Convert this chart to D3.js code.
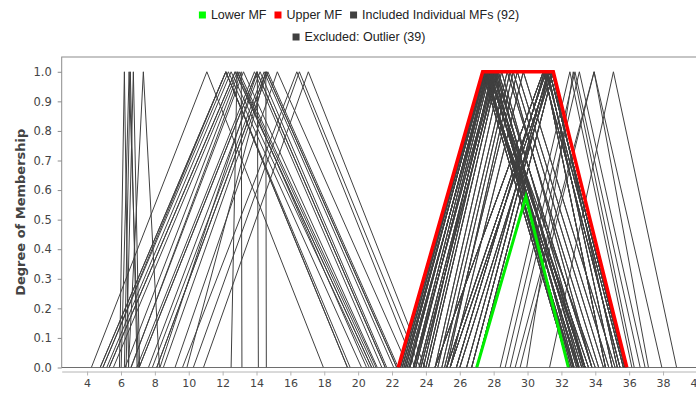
<!DOCTYPE html>
<html>
<head>
<meta charset="utf-8">
<script src="https://cdn.jsdelivr.net/npm/d3@7"></script>
<style>
  body { margin: 0; background: #fff; }
  svg { display: block; }
</style>
</head>
<body>
<div id="chart"></div>
<script>
// x ticks and y ticks as shown on the axes
const xTicks = [4, 6, 8, 10, 12, 14, 16, 18, 20, 22, 24, 26, 28, 30, 32, 34, 36, 38, 40];
const yTicks = [0, 0.1, 0.2, 0.3, 0.4, 0.5, 0.6, 0.7, 0.8, 0.9, 1.0];

// triangular MFs: [left foot, peak, right foot]
const includedMFs = [
  [22.4, 27.35, 32.45], [22.4, 27.35, 32.45], [22.4, 27.35, 32.45], [22.4, 27.35, 32.45],
  [22.6, 27.45, 32.7], [22.6, 27.45, 32.7], [22.6, 27.45, 32.7], [22.6, 27.45, 32.7],
  [22.8, 27.5, 33.0], [22.8, 27.5, 33.0], [22.8, 27.5, 33.0], [22.8, 27.5, 33.0],
  [23.06, 27.6, 32.6], [23.06, 27.6, 32.6], [23.06, 27.6, 32.6],
  [23.26, 27.7, 33.2], [23.26, 27.7, 33.2], [23.26, 27.7, 33.2],
  [23.4, 27.8, 32.9], [23.4, 27.8, 32.9], [23.4, 27.8, 32.9],
  [23.6, 28.05, 32.41], [23.6, 28.05, 32.41], [23.6, 28.05, 32.41],
  [23.85, 27.9, 33.4], [23.85, 27.9, 33.4], [23.85, 27.9, 33.4],
  [24.15, 28.27, 33.8], [24.15, 28.27, 33.8], [24.15, 28.27, 33.8],
  [22.5, 27.4, 33.4], [22.5, 27.4, 33.4], [22.5, 27.4, 33.4],
  [23.0, 27.65, 33.6], [23.0, 27.65, 33.6], [23.0, 27.65, 33.6],
  [23.3, 28.0, 32.75], [23.3, 28.0, 32.75], [23.3, 28.0, 32.75],
  [23.7, 28.2, 33.05], [23.7, 28.2, 33.05], [23.7, 28.2, 33.05],
  [22.7, 27.55, 32.5], [22.7, 27.55, 32.5], [22.7, 27.55, 32.5],
  [24.0, 28.1, 33.3], [24.0, 28.1, 33.3], [24.0, 28.1, 33.3],
  [22.9, 27.75, 34.0], [22.9, 27.75, 34.0],
  [24.54, 28.47, 33.4], [24.54, 28.47, 33.4], [24.94, 28.97, 33.8], [24.94, 28.97, 33.8],
  [25.23, 29.15, 34.48], [25.23, 29.15, 34.48], [25.43, 29.75, 35.17], [25.43, 29.75, 35.17],
  [24.7, 28.8, 34.2], [24.7, 28.8, 34.2], [25.1, 29.4, 34.8], [25.1, 29.4, 34.8],
  [24.54, 30.93, 35.46], [24.54, 30.93, 35.46], [24.54, 30.93, 35.46], [24.54, 30.93, 35.46],
  [25.23, 31.1, 35.66], [25.23, 31.1, 35.66], [25.23, 31.1, 35.66], [25.23, 31.1, 35.66],
  [25.43, 31.3, 35.76], [25.43, 31.3, 35.76], [25.43, 31.3, 35.76], [25.43, 31.3, 35.76],
  [26.0, 31.45, 35.3], [26.0, 31.45, 35.3], [26.0, 31.45, 35.3],
  [26.7, 31.3, 35.76], [26.7, 31.3, 35.76], [26.7, 31.3, 35.76], [26.7, 31.3, 35.76],
  [27.0, 31.52, 35.86], [27.0, 31.52, 35.86], [27.0, 31.52, 35.86], [27.0, 31.52, 35.86],
  [26.4, 31.2, 35.0], [26.4, 31.2, 35.0], [26.4, 31.2, 35.0],
  [25.8, 31.0, 34.6], [25.8, 31.0, 34.6], [25.8, 31.0, 34.6], [25.8, 31.0, 34.6]
];

const excludedMFs = [
  // left group
  [4.25, 11.07, 17.95], [4.77, 12.19, 19.37], [4.93, 12.19, 19.53], [4.93, 12.34, 20.2],
  [5.16, 12.5, 20.66], [5.3, 12.74, 20.8], [5.55, 12.87, 20.94], [6.24, 12.97, 21.06],
  [6.58, 13.23, 21.13], [6.93, 13.88, 21.4], [7.07, 14.02, 21.6], [7.62, 14.21, 21.69],
  [7.85, 14.45, 22.1], [8.11, 14.57, 22.28], [8.5, 14.67, 22.37], [9.19, 15.23, 22.96],
  [9.63, 16.38, 23.36], [10.27, 16.53, 23.65], [10.87, 17.06, 23.95],
  [12.5, 12.85, 20.5], [6.6, 13.1, 13.14], [8.3, 14.05, 14.11], [9.89, 14.55, 14.58],
  [5.3, 12.74, 20.8], [7.07, 14.02, 21.6], [4.77, 12.19, 19.37], [8.11, 14.57, 22.28],
  // narrow spikes
  [5.91, 6.2, 6.45], [6.01, 6.48, 7.03], [6.2, 6.55, 6.95], [6.3, 6.73, 7.1], [6.44, 7.32, 8.27],
  // right group
  [28.38, 32.5, 36.16], [28.68, 32.8, 36.65], [28.97, 33.06, 36.94], [29.27, 33.93, 37.14],
  [29.56, 33.93, 37.93], [29.95, 32.7, 36.3], [31.3, 35.07, 38.8]
];

const upperMF = [[22.37, 0], [27.35, 1], [31.52, 1], [35.86, 0]];
const lowerMF = [[27.0, 0], [29.9, 0.577], [32.41, 0]];

const legendRows = [
  [
    { label: "Lower MF", color: "#00ff00" },
    { label: "Upper MF", color: "#ff0000" },
    { label: "Included Individual MFs (92)", color: "#404040" }
  ],
  [
    { label: "Excluded: Outlier (39)", color: "#404040" }
  ]
];

const width = 696;
const height = 394;
const plot = { left: 61.7, top: 57, bottom: 367.5, right: 705.4 };

const x = d3.scaleLinear().domain([2.5, 40.5]).range([plot.left, plot.right]);
const y = d3.scaleLinear().domain([0, 1.05]).range([plot.bottom, plot.top]);

const svg = d3.select("#chart")
  .append("svg")
  .attr("width", width)
  .attr("height", height)
  .attr("viewBox", `0 0 ${width} ${height}`);

svg.append("defs")
  .append("clipPath")
  .attr("id", "plot-clip")
  .append("rect")
  .attr("x", plot.left)
  .attr("y", plot.top)
  .attr("width", plot.right - plot.left)
  .attr("height", plot.bottom - plot.top);

// plot outline
svg.append("rect")
  .attr("x", plot.left)
  .attr("y", plot.top)
  .attr("width", plot.right - plot.left)
  .attr("height", plot.bottom - plot.top)
  .attr("fill", "none")
  .attr("stroke", "#8c8c8c")
  .attr("stroke-width", 1);

const line = d3.line()
  .x((d) => x(d[0]))
  .y((d) => y(d[1]));

const toPoints = (mf) => [[mf[0], 0], [mf[1], 1], [mf[2], 0]];

const lines = svg.append("g").attr("clip-path", "url(#plot-clip)");

lines.selectAll(".mf")
  .data(excludedMFs.concat(includedMFs))
  .join("path")
  .attr("class", "mf")
  .attr("fill", "none")
  .attr("stroke", "#404040")
  .attr("stroke-width", 1)
  .attr("d", (d) => line(toPoints(d)));

// baseline at 0
lines.append("line")
  .attr("x1", plot.left)
  .attr("x2", plot.right)
  .attr("y1", y(0))
  .attr("y2", y(0))
  .attr("stroke", "#505050")
  .attr("stroke-width", 1.2);

lines.append("path")
  .attr("fill", "none")
  .attr("stroke", "#ff0000")
  .attr("stroke-width", 3.5)
  .attr("d", line(upperMF));

lines.append("path")
  .attr("fill", "none")
  .attr("stroke", "#00ee00")
  .attr("stroke-width", 3)
  .attr("d", line(lowerMF));

// axes
const xAxis = svg.append("g")
  .attr("transform", `translate(0, ${plot.bottom + 4})`)
  .call(d3.axisBottom(x).tickValues(xTicks).tickSize(4).tickSizeOuter(0).tickPadding(4));
xAxis.select(".domain").attr("stroke", "#b4b4b4");
xAxis.selectAll(".tick line").attr("stroke", "#b4b4b4");
xAxis.selectAll("text")
  .attr("fill", "#444")
  .style("font-family", "'DejaVu Sans', Verdana, sans-serif")
  .style("font-size", "11px");

const yAxis = svg.append("g")
  .attr("transform", `translate(${plot.left}, 0)`)
  .call(d3.axisLeft(y).tickValues(yTicks).tickFormat(d3.format(".1f")).tickSize(4).tickSizeOuter(0).tickPadding(6));
yAxis.select(".domain").remove();
yAxis.selectAll(".tick line").attr("stroke", "#8c8c8c");
yAxis.selectAll("text")
  .attr("fill", "#444")
  .style("font-family", "'DejaVu Sans', Verdana, sans-serif")
  .style("font-size", "11.5px");

svg.append("text")
  .attr("transform", `translate(20, ${(plot.top + plot.bottom) / 2}) rotate(-90)`)
  .attr("text-anchor", "middle")
  .attr("dominant-baseline", "central")
  .attr("fill", "#444")
  .style("font-family", "'DejaVu Sans', Verdana, sans-serif")
  .style("font-size", "13px")
  .style("font-weight", "bold")
  .text("Degree of Membership");

// legend, two centred rows
const legendCenter = 359;
legendRows.forEach((row, i) => {
  const rowY = 15 + i * 22;
  const g = svg.append("g");
  let cursor = 0;
  row.forEach((item) => {
    g.append("rect")
      .attr("x", cursor)
      .attr("y", rowY - 3.5)
      .attr("width", 7)
      .attr("height", 7)
      .attr("fill", item.color);
    const t = g.append("text")
      .attr("x", cursor + 12)
      .attr("y", rowY)
      .attr("dominant-baseline", "central")
      .attr("fill", "#222")
      .style("font-family", "'Liberation Sans', Arial, sans-serif")
      .style("font-size", "12.5px")
      .text(item.label);
    cursor += 12 + t.node().getComputedTextLength() + 8;
  });
  const rowWidth = cursor - 8;
  g.attr("transform", `translate(${legendCenter - rowWidth / 2}, 0)`);
});
</script>
</body>
</html>
